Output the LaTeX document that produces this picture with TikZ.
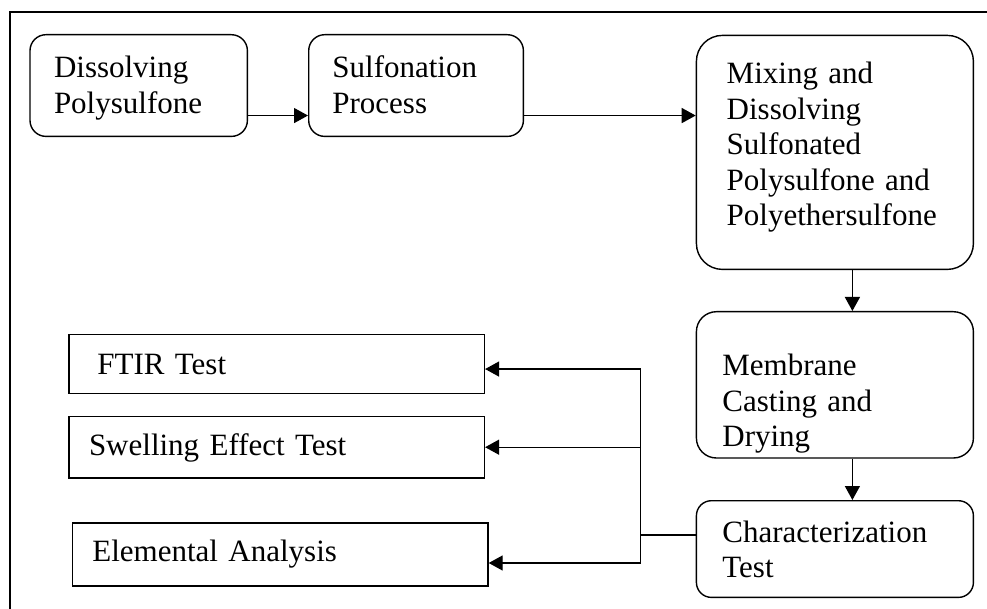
\documentclass[tikz,border=0pt]{standalone}
\usepackage{fontspec}
\setmainfont{Liberation Serif}
\usetikzlibrary{arrows.meta}

\begin{document}
\begin{tikzpicture}[x=1pt,y=-1pt,
    every node/.style={font=\fontsize{31}{35.5}\selectfont, align=left, anchor=north west, inner ysep=0pt, line width=1.4pt},
    stagebox/.style={draw, rounded corners=#1},
    testbox/.style={draw},
    flow/.style={line width=1.4pt, -{Triangle[length=14pt,width=15pt]}}]
      \useasboundingbox (0,0) rectangle (987,609);
      % frame
      \draw[line width=1.4pt] (10,609) -- (10,12) -- (987,12);

      % process steps
      \node[stagebox=16pt, inner xsep=24pt, text width=169.4pt, text height=43.3pt, text depth=58.4pt] (dissolve) at (29.3,34) {
        Dissolving\\Polysulfone
      };
      \node[stagebox=16pt, inner xsep=23.7pt, text width=167.3pt, text height=43.3pt, text depth=58.4pt] (sulfon) at (308,34) {
        Sulfonation\\Process
      };
      \node[stagebox=26pt, inner xsep=30.3pt, text width=216.4pt, text height=48.6pt, text depth=185.4pt] (mixing) at (695.7,34.7) {
        Mixing and\\Dissolving\\Sulfonated\\Polysulfone and\\Polyethersulfone
      };
      \node[stagebox=20pt, inner xsep=26pt, text width=225pt, text height=64pt, text depth=82.3pt] (casting) at (695.7,311) {
        Membrane\\Casting and\\Drying
      };
      \node[stagebox=15pt, inner xsep=26pt, text width=225pt, text height=41.7pt, text depth=55pt] (char) at (695.7,500) {
        Characterization\\Test
      };

      % tests
      \node[testbox, inner xsep=28.4pt, text width=358.6pt, text height=39.3pt, text depth=19.4pt] (ftir) at (68.3,334) {FTIR Test};
      \node[testbox, inner xsep=20pt, text width=375.4pt, text height=39.3pt, text depth=22.3pt] (swell) at (68.3,415.7) {Swelling Effect Test};
      \node[testbox, inner xsep=20pt, text width=375.6pt, text height=38.4pt, text depth=24.6pt] (elem) at (71.7,522.3) {Elemental Analysis};

      \draw[flow] ([yshift=-30pt]dissolve.east) -- ([yshift=-30pt]dissolve.east -| sulfon.west);
      \draw[flow] ([yshift=-30pt]sulfon.east) -- ([yshift=-30pt]sulfon.east -| mixing.west);
      \draw[flow] ([xshift=17.5pt]mixing.south) -- ([xshift=17.5pt]mixing.south |- casting.north);
      \draw[flow] ([xshift=17.5pt]casting.south) -- ([xshift=17.5pt]casting.south |- char.north);

      \coordinate (bus) at ([xshift=-55pt,yshift=14pt]char.west);
      \draw[line width=1.4pt] ([yshift=14pt]char.west) -- (bus);
      \foreach \t/\s in {ftir/-5pt,swell/0pt,elem/-8.5pt}
        \draw[flow] (bus) |- ([yshift=\s]\t.east);
    \end{tikzpicture}
\end{document}
